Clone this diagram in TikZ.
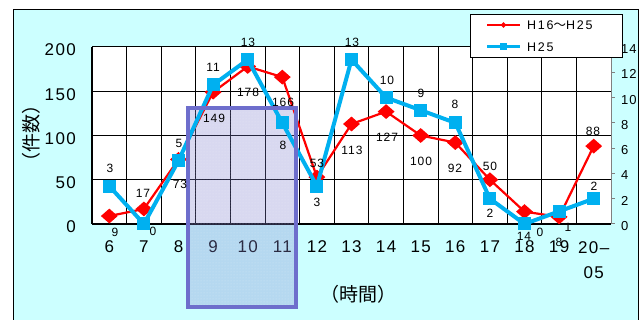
\documentclass[tikz,border=0pt]{standalone}
\usepackage{fontspec}
\setmainfont{Liberation Sans}
\newfontfamily\numfont[LetterSpace=8]{Liberation Sans}
\newfontfamily\legfont[LetterSpace=14]{Liberation Sans}
\newfontfamily\cjk{Noto Sans CJK JP}
\usetikzlibrary{shapes.geometric,patterns}
\definecolor{bgcyan}{HTML}{CCFFFF}
\definecolor{lred}{HTML}{FF0000}
\definecolor{lblue}{HTML}{00B0F0}
\definecolor{boxpurple}{HTML}{6E6ECC}
\definecolor{boxfill}{HTML}{8080D0}
\definecolor{axgray}{HTML}{808080}
\begin{document}
\begin{tikzpicture}[x=1pt,y=-1pt,
  gridln/.style={black, line width=1pt},
  redline/.style={lred, line width=2.2pt},
  blueline/.style={lblue, line width=4pt},
  rmark/.style={diamond, fill=lred, inner sep=0pt, minimum width=17pt, minimum height=15pt},
  bmark/.style={rectangle, fill=lblue, inner sep=0pt, minimum size=13pt},
  rmarksmall/.style={diamond, fill=lred, inner sep=0pt, minimum width=6pt, minimum height=6pt},
  bmarksmall/.style={rectangle, fill=lblue, inner sep=0pt, minimum size=7pt},
  lab/.style={font=\numfont\fontsize{12}{12}\selectfont, inner sep=0pt},
  axlab/.style={font=\numfont\fontsize{17}{17}\selectfont, inner sep=0pt},
  rlab/.style={font=\numfont\fontsize{13}{13}\selectfont, inner sep=0pt, anchor=west},
  legtext/.style={font=\legfont\fontsize{12.5}{13}\selectfont, inner sep=0pt, anchor=west},
  cjklab/.style={font=\cjk\fontsize{19}{19}\selectfont, inner sep=0pt}
]
\useasboundingbox (0,0) rectangle (642,320);
\clip (0,0) rectangle (642,320);
\fill[white] (0,0) rectangle (642,320);
% background panel
\filldraw[fill=bgcyan, draw=black, line width=1pt] (13,10) rectangle (638,330);
% plot area
\fill[white] (92,47) rectangle (611,224);
\foreach \k in {0,...,15} \draw[gridln] ({92+34.6*\k},47) -- ({92+34.6*\k},224);
\foreach \v in {50,100,150,200} \draw[gridln] (92,{224-0.885*\v}) -- (611,{224-0.885*\v});
\draw[black, line width=1.8pt] (92,224) -- (611,224);
\draw[black, line width=1.5pt] (92,47) -- (92,224);
% right axis
\draw[axgray, line width=1pt] (611,47) -- (611,224);
\foreach \v in {0,2,...,14} {
  \draw[axgray, line width=1pt] (611,{224-12.643*\v}) -- (615,{224-12.643*\v});
  \node[rlab] (ra\v) at (621,{226-12.643*\v}) {\v};
}
% left axis labels
\foreach \v in {0,50,100,150,200} \node[axlab, anchor=east] (la\v) at (76,{227-0.885*\v}) {\v};
% x labels
\foreach \t [count=\i from 0] in {6,7,8,9,10,11,12,13,14,15,16,17,18,19}
  \node[axlab] (xl\i) at ({92+34.6*(\i+0.5)},247) {\t};
\node[axlab] (xl14) at ({92+34.6*14.5},248) {20–};
\node[axlab] (xl14b) at ({92+34.6*14.5},273) {05};
% axis titles
\node[cjklab, rotate=90] (ytitle) at (31,134) {（件数）};
\node[cjklab] (xtitle) at (358,294) {（時間）};
% highlight box fill
\fill[boxfill, fill opacity=0.3] (188,108) rectangle (296,307);
\fill[pattern=dots, pattern color=white, fill opacity=0.35] (188,108) rectangle (296,307);
% data coordinates
\foreach \v [count=\i from 0] in {9,17,73,149,178,166,53,113,127,100,92,50,14,8,88}
  \coordinate (r\i) at ({92+34.6*(\i+0.5)},{224-0.885*\v});
\foreach \v [count=\i from 0] in {3,0,5,11,13,8,3,13,10,9,8,2,0,1,2}
  \coordinate (b\i) at ({92+34.6*(\i+0.5)},{224-12.643*\v});
% red series
\draw[redline, line join=round] (r0) \foreach \i in {1,...,14} { -- (r\i) };
\foreach \i in {0,...,14} \node[rmark] (rm\i) at (r\i) {};
% blue series
\draw[blueline, line join=round] (b0) \foreach \i in {1,...,14} { -- (b\i) };
\foreach \i in {0,...,14} \node[bmark] (bm\i) at (b\i) {};
% highlight box border
\draw[boxpurple, line width=3.5pt] (188,108) rectangle (296,307);
% red labels
\node[lab] (lr0) at (115,232) {9};
\node[lab] (lr1) at (143,193) {17};
\node[lab] (lr2) at (180,184) {73};
\node[lab] (lr3) at (214,118) {149};
\node[lab] (lr4) at (248,92) {178};
\node[lab] (lr5) at (283,102) {166};
\node[lab] (lr6) at (317,163) {53};
\node[lab] (lr7) at (352,150) {113};
\node[lab] (lr8) at (387,137) {127};
\node[lab] (lr9) at (421,161) {100};
\node[lab] (lr10) at (455,168) {92};
\node[lab] (lr11) at (490,166) {50};
\node[lab] (lr12) at (524,236) {14};
\node[lab] (lr13) at (559,242) {8};
\node[lab] (lr14) at (593,131) {88};
% blue labels
\node[lab] (lb0) at (110,168) {3};
\node[lab] (lb1) at (153,231) {0};
\node[lab] (lb2) at (179,143) {5};
\node[lab] (lb3) at (213,67) {11};
\node[lab] (lb4) at (248,42) {13};
\node[lab] (lb5) at (283,145) {8};
\node[lab] (lb6) at (317,202) {3};
\node[lab] (lb7) at (352,42) {13};
\node[lab] (lb8) at (387,80) {10};
\node[lab] (lb9) at (421,93) {9};
\node[lab] (lb10) at (455,104) {8};
\node[lab] (lb11) at (490,213) {2};
\node[lab] (lb12) at (540,232) {0};
\node[lab] (lb13) at (568,227) {1};
\node[lab] (lb14) at (594,186) {2};
% legend
\filldraw[fill=white, draw=black, line width=1pt] (470,15) rectangle (622,58);
\coordinate (lgr1) at (487,25);
\coordinate (lgr2) at (520,25);
\coordinate (lgb1) at (487,47);
\coordinate (lgb2) at (520,47);
\draw[lred, line width=1.6pt] (lgr1) -- (lgr2);
\node[rmarksmall] (lgrm) at (503.5,25) {};
\draw[lblue, line width=3pt] (lgb1) -- (lgb2);
\node[bmarksmall] (lgbm) at (503.5,47) {};
\node[legtext] (lgt1) at (527,25) {H16{\cjk ～}H25};
\node[legtext] (lgt2) at (527,47) {H25};
\end{tikzpicture}
\end{document}
